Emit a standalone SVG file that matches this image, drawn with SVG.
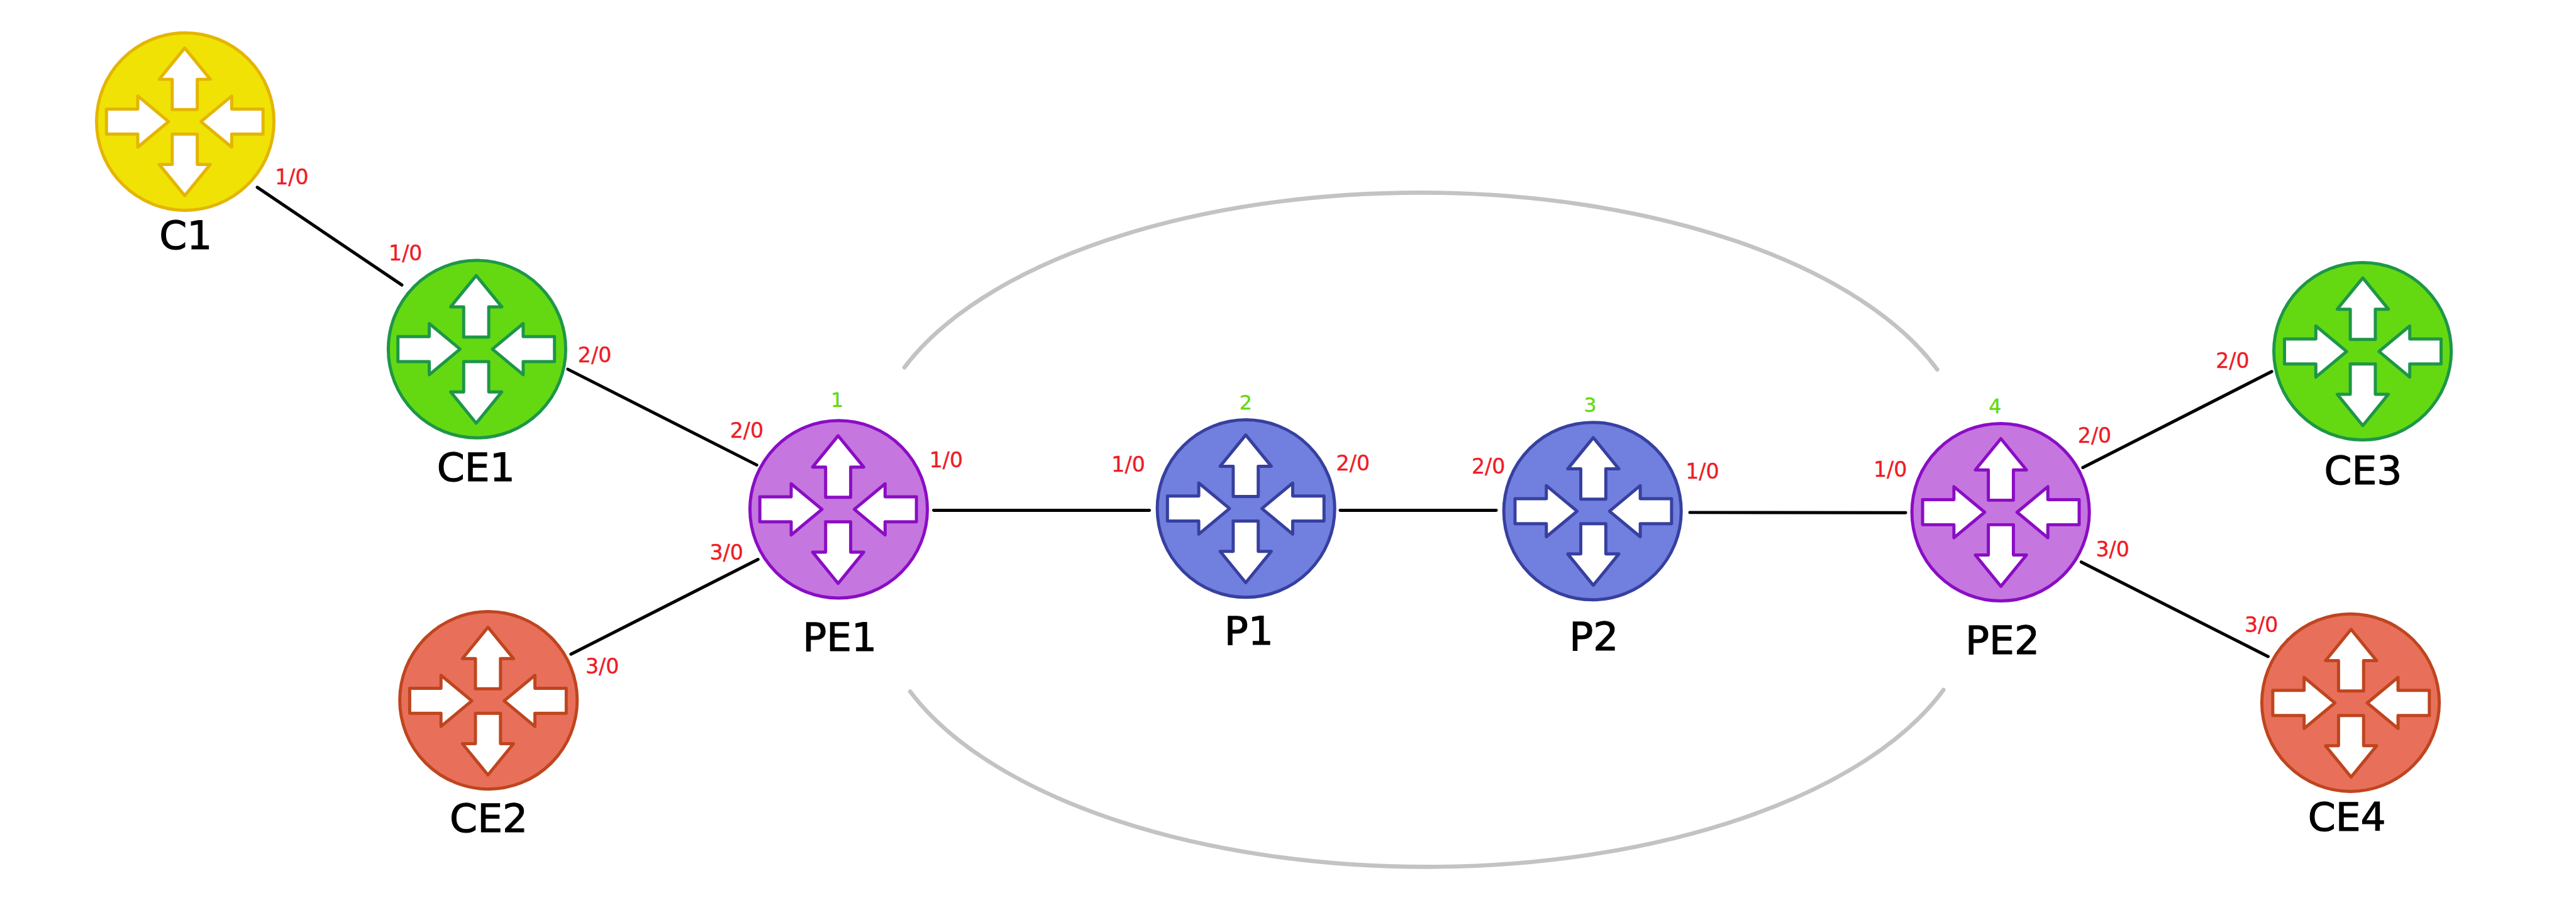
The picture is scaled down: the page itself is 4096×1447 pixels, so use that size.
<svg xmlns="http://www.w3.org/2000/svg" xmlns:xlink="http://www.w3.org/1999/xlink" width="4096" height="1447" viewBox="0 0 4096 1447">
<style>
text{font-family:"DejaVu Sans","Liberation Sans",sans-serif;text-anchor:middle}
.name{font-size:76px;fill:#000;stroke:#000;stroke-width:1.5}
.port{font-size:40px;fill:#ee1c25;stroke:#ee1c25;stroke-width:.5}
.num{font-size:38px;fill:#64d911;stroke:#64d911;stroke-width:.5}
.body{stroke-width:6}
.icon{fill:#fff;stroke-width:6;stroke-linejoin:round}
.link{stroke:#000;stroke-width:6;stroke-linecap:round;fill:none}
.arc{stroke:#c3c3c3;stroke-width:8;stroke-linecap:round;fill:none}
.yellow{fill:#f0e205;stroke:#e3b505}
.green{fill:#64d912;stroke:#1e9648}
.purple{fill:#c576df;stroke:#8a0dc4}
.blue{fill:#717fdf;stroke:#37409f}
.red{fill:#e8705a;stroke:#bf451f}
</style>
<defs>
<g id="arrows">
<path d="M0,-141L49,-81H24V-23H-24V-81H-49Z"/>
<path d="M-150,-24H-90V-49L-31,0L-90,49V24H-150Z"/>
<path d="M150,-24H90V-49L31,0L90,49V24H150Z"/>
<path d="M-24,24H24V82H49L0,142L-49,82H-24Z"/>
</g>
</defs>
<rect width="4096" height="1447" fill="#fff"/>
<g transform="scale(0.82982)">
<g id="connectors">
<path class="arc" d="M1733,704A1052,510 0 0 1 3712,708"/>
<path class="arc" d="M1744,1325A1052,510 0 0 0 3724,1322"/>
<line class="link" x1="493" y1="359" x2="770" y2="546"/>
<line class="link" x1="1088" y1="707.5" x2="1450" y2="891"/>
<line class="link" x1="1094" y1="1253.5" x2="1452.5" y2="1072"/>
<line class="link" x1="1789" y1="978" x2="2202.5" y2="978"/>
<line class="link" x1="2568" y1="978" x2="2867" y2="978"/>
<line class="link" x1="3238" y1="982" x2="3651.5" y2="982.5"/>
<line class="link" x1="3991" y1="896" x2="4353" y2="712"/>
<line class="link" x1="3988" y1="1077" x2="4346" y2="1258"/>
</g>
<g id="C1"><circle class="body yellow" cx="355" cy="233" r="170"/><use class="icon" style="stroke:#e3b505" href="#arrows" x="354" y="233"/><text class="name" x="356" y="477">C1</text><text class="port" x="559" y="353">1/0</text></g>
<g id="CE1"><circle class="body green" cx="914" cy="669" r="170"/><use class="icon" style="stroke:#1e9648" href="#arrows" x="912.5" y="669"/><text class="name" x="912" y="922.5">CE1</text><text class="port" x="777" y="498.5">1/0</text><text class="port" x="1139.5" y="694">2/0</text></g>
<g id="CE2"><circle class="body red" cx="936" cy="1342" r="170"/><use class="icon" style="stroke:#bf451f" href="#arrows" x="935" y="1343"/><text class="name" x="936.5" y="1594">CE2</text><text class="port" x="1154" y="1291">3/0</text></g>
<g id="PE1"><circle class="body purple" cx="1607" cy="976" r="170"/><use class="icon" style="stroke:#8a0dc4" href="#arrows" x="1606" y="976"/><text class="name" x="1609" y="1247">PE1</text><text class="num" x="1604" y="780">1</text><text class="port" x="1431" y="839">2/0</text><text class="port" x="1392" y="1072.5">3/0</text><text class="port" x="1813" y="895">1/0</text></g>
<g id="P1"><circle class="body blue" cx="2387.5" cy="974.5" r="170"/><use class="icon" style="stroke:#37409f" href="#arrows" x="2387" y="974.5"/><text class="name" x="2393" y="1234.7">P1</text><text class="num" x="2387" y="785">2</text><text class="port" x="2162" y="903.6">1/0</text><text class="port" x="2592.5" y="901">2/0</text></g>
<g id="P2"><circle class="body blue" cx="3051.5" cy="979.4" r="170"/><use class="icon" style="stroke:#37409f" href="#arrows" x="3053" y="979.5"/><text class="name" x="3054" y="1246">P2</text><text class="num" x="3047" y="789">3</text><text class="port" x="2852" y="908">2/0</text><text class="port" x="3262" y="916.7">1/0</text></g>
<g id="PE2"><circle class="body purple" cx="3833.5" cy="981.5" r="170"/><use class="icon" style="stroke:#8a0dc4" href="#arrows" x="3834" y="981.5"/><text class="name" x="3837" y="1253">PE2</text><text class="num" x="3823" y="792">4</text><text class="port" x="3622" y="914">1/0</text><text class="port" x="4013.5" y="848.6">2/0</text><text class="port" x="4048" y="1067">3/0</text></g>
<g id="CE3"><circle class="body green" cx="4527" cy="673" r="170"/><use class="icon" style="stroke:#1e9648" href="#arrows" x="4527.5" y="673.5"/><text class="name" x="4528" y="927.5">CE3</text><text class="port" x="4278" y="704.5">2/0</text></g>
<g id="CE4"><circle class="body red" cx="4504" cy="1346.5" r="170"/><use class="icon" style="stroke:#bf451f" href="#arrows" x="4505" y="1347"/><text class="name" x="4497" y="1592">CE4</text><text class="port" x="4333" y="1211">3/0</text></g>
</g>
</svg>
